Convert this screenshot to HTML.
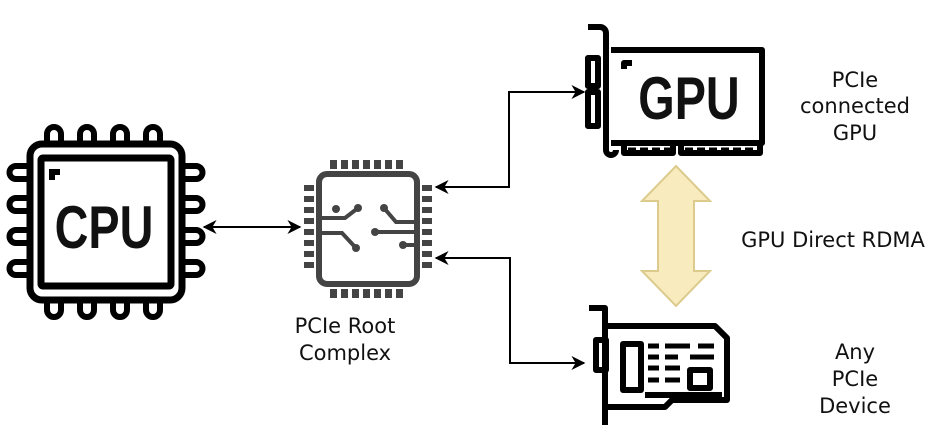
<!DOCTYPE html>
<html><head><meta charset="utf-8"><style>
html,body{margin:0;padding:0;background:#fff;}
svg{display:block}
text{font-family:"DejaVu Sans","Liberation Sans",sans-serif;fill:#111;}
</style></head><body>
<svg width="945" height="447" viewBox="0 0 945 447" xmlns="http://www.w3.org/2000/svg">
<defs>
<marker id="ah" viewBox="0 0 10 10" refX="9" refY="5" markerWidth="14" markerHeight="14" orient="auto-start-reverse" markerUnits="userSpaceOnUse">
<path d="M0,0 L10,5 L0,10 L3,5 z" fill="#000"/></marker>
</defs>

<!-- CPU -->
<g fill="none" stroke="#000" stroke-width="7" stroke-linejoin="round">
<rect x="30" y="144" width="152" height="156" rx="12"/>
<rect x="41" y="158" width="130" height="128" rx="2"/>
</g>
<g fill="none" stroke="#000" stroke-width="6">
<path d="M47 143 V134 a7 7 0 0 1 14 0 V143"/>
<path d="M80 143 V134 a7 7 0 0 1 14 0 V143"/>
<path d="M113 143 V134 a7 7 0 0 1 14 0 V143"/>
<path d="M146 143 V134 a7 7 0 0 1 14 0 V143"/>
<path d="M47 301 V310 a7 7 0 0 0 14 0 V301"/>
<path d="M80 301 V310 a7 7 0 0 0 14 0 V301"/>
<path d="M113 301 V310 a7 7 0 0 0 14 0 V301"/>
<path d="M146 301 V310 a7 7 0 0 0 14 0 V301"/>
<path d="M29 166 H16 a6 6 0 0 0 0 13 H29"/>
<path d="M29 198 H16 a6 6 0 0 0 0 13 H29"/>
<path d="M29 230 H16 a6 6 0 0 0 0 13 H29"/>
<path d="M29 262 H16 a6 6 0 0 0 0 13 H29"/>
<path d="M183 166 H196 a6 6 0 0 1 0 13 H183"/>
<path d="M183 198 H196 a6 6 0 0 1 0 13 H183"/>
<path d="M183 230 H196 a6 6 0 0 1 0 13 H183"/>
<path d="M183 262 H196 a6 6 0 0 1 0 13 H183"/>
<path d="M52 180 V172 H60"/>
</g>
<text x="104" y="248" font-size="60" font-weight="bold" text-anchor="middle" style="font-family:'Liberation Sans Narrow','Liberation Sans',sans-serif" transform="translate(104 0) scale(0.78 1) translate(-104 0)">CPU</text>

<!-- Root complex -->
<rect x="319" y="174" width="98" height="110" rx="8" fill="none" stroke="#444" stroke-width="6"/>
<g fill="#444">
<rect x="330" y="160" width="7" height="9"/><rect x="341" y="160" width="7" height="9"/><rect x="352" y="160" width="7" height="9"/><rect x="363" y="160" width="7" height="9"/><rect x="374" y="160" width="7" height="9"/><rect x="385" y="160" width="7" height="9"/><rect x="396" y="160" width="7" height="9"/>
<rect x="330" y="289" width="7" height="9"/><rect x="341" y="289" width="7" height="9"/><rect x="352" y="289" width="7" height="9"/><rect x="363" y="289" width="7" height="9"/><rect x="374" y="289" width="7" height="9"/><rect x="385" y="289" width="7" height="9"/><rect x="396" y="289" width="7" height="9"/>
<rect x="304" y="185" width="10" height="6"/><rect x="304" y="196" width="10" height="6"/><rect x="304" y="207" width="10" height="6"/><rect x="304" y="218" width="10" height="6"/><rect x="304" y="229" width="10" height="6"/><rect x="304" y="240" width="10" height="6"/><rect x="304" y="251" width="10" height="6"/><rect x="304" y="262" width="10" height="6"/>
<rect x="422" y="185" width="10" height="6"/><rect x="422" y="196" width="10" height="6"/><rect x="422" y="207" width="10" height="6"/><rect x="422" y="218" width="10" height="6"/><rect x="422" y="229" width="10" height="6"/><rect x="422" y="240" width="10" height="6"/><rect x="422" y="251" width="10" height="6"/><rect x="422" y="262" width="10" height="6"/>
<circle cx="336" cy="209" r="4"/><circle cx="358" cy="208" r="4"/><circle cx="356" cy="248" r="4"/><circle cx="384" cy="208" r="4"/><circle cx="375" cy="232" r="4"/><circle cx="403" cy="245" r="4"/>
</g>
<g fill="none" stroke="#444" stroke-width="4">
<path d="M320 218 H345 L358 208"/><path d="M320 233 H342 L356 248"/>
<path d="M384 208 L396 222 H416"/><path d="M375 232 H416"/><path d="M403 245 H416"/>
</g>

<!-- connectors -->
<g fill="none" stroke="#000" stroke-width="2">
<line x1="204" y1="227" x2="300" y2="227" marker-start="url(#ah)" marker-end="url(#ah)"/>
<polyline points="436,187 509,187 509,92 584,92" marker-start="url(#ah)" marker-end="url(#ah)"/>
<polyline points="436,258 510,258 510,363 584,363" marker-start="url(#ah)" marker-end="url(#ah)"/>
</g>

<!-- GPU card -->
<g fill="none" stroke="#000" stroke-width="6" stroke-linejoin="round">
<path d="M588 27 H600 a6 6 0 0 1 6 6 V150 a5 5 0 0 0 10 0"/>
<rect x="588" y="58" width="10" height="28"/>
<rect x="588" y="92" width="10" height="34"/>
<path d="M611 50 H762 V143 H611"/>
<path d="M624 69 V63 H632"/>
<path d="M624 145 V153 H673 V145 M681 145 V153 H760 V145"/>
</g>
<g stroke="#000" stroke-width="3" stroke-dasharray="8 4"><line x1="628" y1="149" x2="670" y2="149"/><line x1="685" y1="149" x2="756" y2="149"/></g>
<text x="689" y="119" font-size="60" font-weight="bold" text-anchor="middle" style="font-family:'Liberation Sans Narrow','Liberation Sans',sans-serif" transform="translate(689 0) scale(0.78 1) translate(-689 0)">GPU</text>

<!-- yellow arrow -->
<path d="M676 166 L710 201 H694 V271 H710 L676 306 L642 271 H658 V201 H642 Z" fill="#f8ebbd" stroke="#dccb8c" stroke-width="2"/>

<!-- device card -->
<g fill="none" stroke="#000" stroke-width="6" stroke-linejoin="round">
<path d="M589 308 H605 V425"/>
<rect x="596" y="340" width="10" height="30"/>
<path d="M607 326 H715 L727 338 V400 H672 L665 407 H607"/>
<rect x="623" y="344" width="18" height="46"/>
<rect x="690" y="370" width="20" height="18"/>
<path d="M645 395 H722"/>
</g>
<g stroke="#000" stroke-width="5">
<line x1="648" y1="346" x2="659" y2="346"/><line x1="665" y1="346" x2="690" y2="346"/><line x1="698" y1="346" x2="714" y2="346"/>
<line x1="648" y1="357" x2="659" y2="357"/><line x1="665" y1="357" x2="678" y2="357"/><line x1="690" y1="357" x2="714" y2="357"/>
<line x1="648" y1="368" x2="659" y2="368"/><line x1="665" y1="368" x2="680" y2="368"/>
<line x1="648" y1="380" x2="659" y2="380"/><line x1="665" y1="380" x2="680" y2="380"/>
</g>

<!-- labels -->
<g font-size="21" text-anchor="middle">
<text x="345" y="333">PCIe Root</text>
<text x="345" y="360">Complex</text>
<text x="855" y="87">PCIe</text>
<text x="855" y="113">connected</text>
<text x="855" y="140">GPU</text>
<text x="833" y="247">GPU Direct RDMA</text>
<text x="855" y="359">Any</text>
<text x="855" y="386">PCIe</text>
<text x="855" y="413">Device</text>
</g>
</svg>
</body></html>
